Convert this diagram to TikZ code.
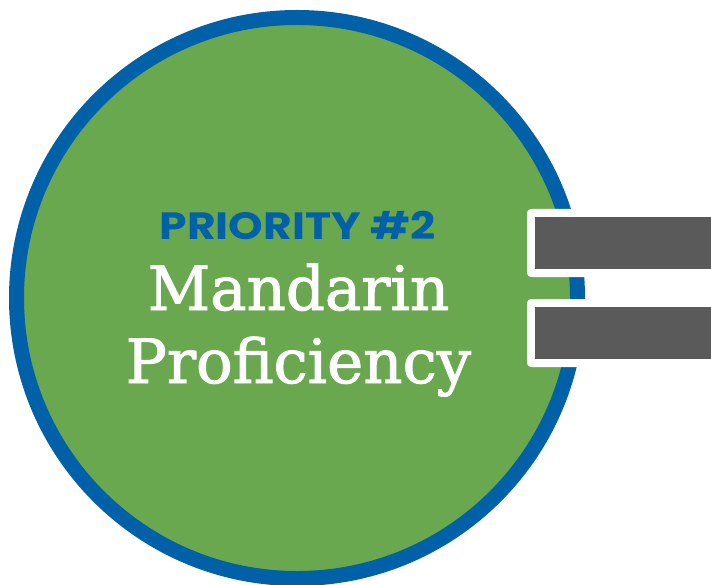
\documentclass[tikz,border=0pt]{standalone}
\usepackage{fontspec}
\newfontfamily\popfont{Poppins}[FakeStretch=1.16]
\newfontfamily\serfont{DejaVu Serif}[FakeBold=1.6]
\definecolor{ringblue}{HTML}{0061A8}
\definecolor{discgreen}{HTML}{6AA84F}
\definecolor{bargray}{HTML}{5A5A5A}
\begin{document}
\begin{tikzpicture}[x=1pt,y=-1pt,
  barframe/.style={fill=white,rounded corners=4pt},
  barfill/.style={fill=bargray},
  toptext/.style={anchor=base,inner sep=0pt,text=ringblue,font=\popfont\bfseries\fontsize{38}{40}\selectfont},
  maintext/.style={anchor=base,inner sep=0pt,text=white,font=\serfont\fontsize{61}{70}\selectfont}]
\useasboundingbox (0,0) rectangle (711,585);
\clip (0,0) rectangle (711,585);
\fill[white] (0,0) rectangle (711,585);
\node[circle,minimum size=561pt,inner sep=0pt,fill=discgreen,draw=ringblue,line width=15pt] (disc) at (297,298) {};
\fill[barframe] (527,209) rectangle (730,277);
\fill[barfill] (535,217) rectangle (730,269);
\fill[barframe] (527,299) rectangle (730,367);
\fill[barfill] (535,307) rectangle (730,359);
\node[toptext] (prio) at (297.5,240) {PRIORITY \#2};
\node[maintext] (mand) at (298.5,310) {Mandarin};
\node[maintext] (prof) at (298.5,383) {Proficiency};
\end{tikzpicture}
\end{document}
